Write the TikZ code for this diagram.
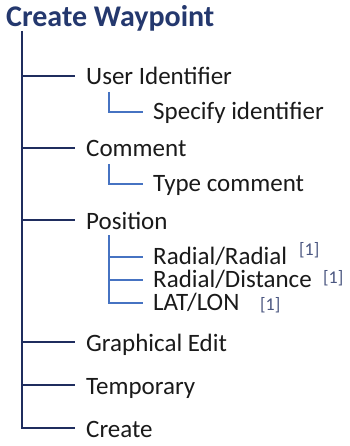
\documentclass[tikz,border=0pt]{standalone}
\usepackage{fontspec}
\setmainfont{Carlito}
\definecolor{titleblue}{HTML}{24386E}
\definecolor{trunkblue}{HTML}{1F2D5E}
\definecolor{subblue}{HTML}{4673C2}
\definecolor{txt}{HTML}{1A1A1A}
\definecolor{refcol}{HTML}{4A5680}
\begin{document}
\begin{tikzpicture}[x=1pt,y=-1pt,
  item/.style={anchor=west,inner sep=0pt,text height=18pt,text depth=0pt,text=txt,font=\fontsize{25}{29}\selectfont},
  subitem/.style={anchor=west,inner sep=0pt,text height=15pt,text depth=0pt,text=txt,font=\fontsize{25}{29}\selectfont},
  refmark/.style={anchor=base west,inner sep=0pt,text=refcol,font=\fontsize{18}{21}\selectfont},
  trunk/.style={draw=trunkblue,line width=2.2pt},
  branch/.style={draw=trunkblue,line width=2.2pt,shorten >=11pt},
  subline/.style={draw=subblue,line width=1.8pt},
  subbranch/.style={draw=subblue,line width=1.8pt,shorten >=10pt}]
\useasboundingbox[fill=white] (0,0) rectangle (349,446);
\node[anchor=base west,inner sep=0pt,text=titleblue,font=\fontsize{30}{35}\selectfont\bfseries] (title) at (6,27) {Create Waypoint};
\coordinate (top) at (22,31);
\node[item] (ui) at (86,76) {User Identifier};
\node[subitem] (spec) at (153,112) {Specify identifier};
\node[item] (comment) at (86,148) {Comment};
\node[subitem] (type) at (153,184) {Type comment};
\node[item] (pos) at (86,220) {Position};
\node[subitem] (rr) at (153,257) {Radial/Radial};
\node[subitem] (rd) at (153,280) {Radial/Distance};
\node[subitem] (ll) at (153,303) {LAT/LON};
\node[refmark] (r1) at (299,255) {[1]};
\node[refmark] (r2) at (323,283) {[1]};
\node[refmark] (r3) at (260,310) {[1]};
\node[item] (graph) at (86,342) {Graphical Edit};
\node[item] (temp) at (86,385) {Temporary};
\node[item] (create) at (86,428) {Create};
\coordinate (s1) at (109,92);
\coordinate (s2) at (109,164);
\coordinate (s3) at (109,235);
% trunk
\draw[trunk] (top) |- ([xshift=-11pt]create.west);
\foreach \n in {ui,comment,pos,graph,temp}{
  \draw[branch] (top |- \n.west) -- (\n.west);
}
% sub branches
\draw[subbranch] (s1) |- (spec.west);
\draw[subbranch] (s2) |- (type.west);
\draw[subbranch] (s3) |- (ll.west);
\draw[subbranch] (s3 |- rr.west) -- (rr.west);
\draw[subbranch] (s3 |- rd.west) -- (rd.west);
\end{tikzpicture}
\end{document}
